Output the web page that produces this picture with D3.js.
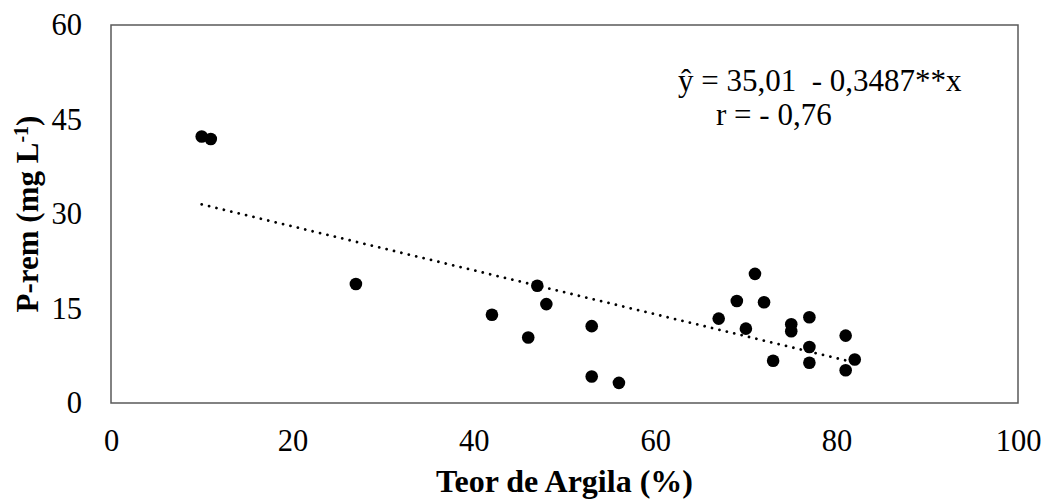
<!DOCTYPE html>
<html>
<head>
<meta charset="utf-8">
<script src="https://cdn.jsdelivr.net/npm/d3@7"></script>
<style>
  body { margin: 0; background: #fff; }
</style>
</head>
<body>
<div id="vis"></div>
<script>
// clay content (%) and remaining P (mg/L)
const argila = [10, 11, 27, 42, 46, 47, 48, 53, 53, 56, 67, 69, 70, 71, 72, 73, 75, 75, 77, 77, 77, 81, 81, 82];
const prem   = [42.3, 41.9, 18.9, 14.0, 10.4, 18.6, 15.7, 12.2, 4.2, 3.2, 13.4, 16.2, 11.8, 20.5, 16.0, 6.7, 12.5, 11.4, 13.6, 8.9, 6.4, 10.7, 5.2, 6.9];
const xTicks = [0, 20, 40, 60, 80, 100];
const yTicks = [0, 15, 30, 45, 60];
const intercept = 35.01;
const slope = -0.3487;

const FONT = '"Liberation Serif", "Times New Roman", serif';

const svg = d3.select("#vis").append("svg")
  .attr("width", 1048)
  .attr("height", 501);

const margin = { top: 25, right: 30, bottom: 98, left: 111 };
const width = 1048 - margin.left - margin.right;
const height = 501 - margin.top - margin.bottom;

const g = svg.append("g")
  .attr("transform", `translate(${margin.left},${margin.top})`);

const x = d3.scaleLinear().domain([0, 100]).range([0, width]);
const y = d3.scaleLinear().domain([0, 60]).range([height, 0]);

// plot area frame
g.append("rect")
  .attr("width", width)
  .attr("height", height)
  .attr("fill", "none")
  .attr("stroke", "#595959")
  .attr("stroke-width", 1.5);

// axes, ticks hidden
const xAxis = g.append("g")
  .attr("transform", `translate(0,${height})`)
  .call(d3.axisBottom(x).tickValues(xTicks).tickSize(0).tickPadding(26));
const yAxis = g.append("g")
  .call(d3.axisLeft(y).tickValues(yTicks).tickSize(0).tickPadding(29));
[xAxis, yAxis].forEach(a => {
  a.select(".domain").remove();
  a.selectAll("text")
    .style("font-family", FONT)
    .style("font-size", "30.5px")
    .attr("fill", "#000");
});

// trend line (dotted)
const xr = d3.extent(argila);
g.append("line")
  .attr("x1", x(xr[0]))
  .attr("y1", y(intercept + slope * xr[0]))
  .attr("x2", x(xr[1]))
  .attr("y2", y(intercept + slope * xr[1]))
  .attr("stroke", "#000")
  .attr("stroke-width", 2.8)
  .attr("stroke-linecap", "round")
  .attr("stroke-dasharray", "0.01,7.6");

// points
g.selectAll("circle")
  .data(argila.map((d, i) => [d, prem[i]]))
  .join("circle")
  .attr("cx", d => x(d[0]))
  .attr("cy", d => y(d[1]))
  .attr("r", 6.3)
  .attr("fill", "#000");

// equation
svg.append("text")
  .attr("x", 678)
  .attr("y", 91)
  .style("font-family", FONT)
  .style("font-size", "31px")
  .style("white-space", "pre")
  .text("ŷ = 35,01  - 0,3487**x");

svg.append("text")
  .attr("x", 716)
  .attr("y", 125)
  .style("font-family", FONT)
  .style("font-size", "31px")
  .text("r = - 0,76");

// axis titles
svg.append("text")
  .attr("x", margin.left + width / 2)
  .attr("y", 492)
  .attr("text-anchor", "middle")
  .style("font-family", FONT)
  .style("font-weight", "bold")
  .style("font-size", "32px")
  .text("Teor de Argila (%)");

const yt = svg.append("text")
  .attr("transform", `translate(38,${margin.top + height / 2}) rotate(-90)`)
  .attr("text-anchor", "middle")
  .style("font-family", FONT)
  .style("font-weight", "bold")
  .style("font-size", "31px");
yt.append("tspan").text("P-rem (mg L");
yt.append("tspan").attr("dy", -10).style("font-size", "20px").text("-1");
yt.append("tspan").attr("dy", 10).text(")");
</script>
</body>
</html>
